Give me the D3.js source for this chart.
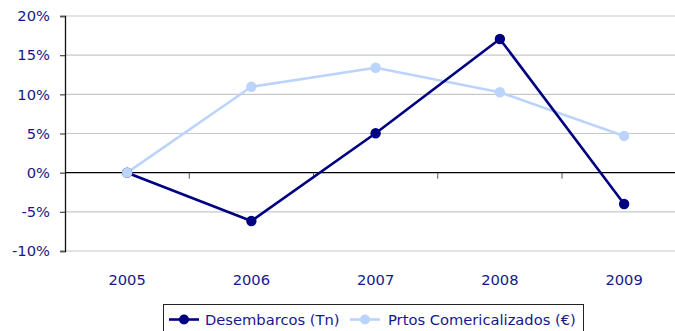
<!DOCTYPE html>
<html>
<head>
<meta charset="utf-8">
<script src="https://cdn.jsdelivr.net/npm/d3@7"></script>
<style>
  html, body { margin: 0; padding: 0; background: #fff; }
  svg { display: block; }
  text { font-family: "DejaVu Sans", Verdana, sans-serif; }
</style>
</head>
<body>
<svg id="chart" width="675" height="331"></svg>
<script>
// Year-on-year change, in percent
const years = ["2005", "2006", "2007", "2008", "2009"];
const desembarcos = [0, -6.17, 5.03, 17.07, -4.0];
const comercializados = [0, 10.97, 13.4, 10.26, 4.69];
const yTicks = [-10, -5, 0, 5, 10, 15, 20];
const seriesNames = ["Desembarcos (Tn)", "Prtos Comericalizados (€)"];

const textColor = "#17178a";
const darkBlue = "#000080";
const lightBlue = "#bcd4fb";

const svg = d3.select("#chart");

const x = d3.scaleBand().domain(years).range([65, 686.25]);
const y = d3.scaleLinear().domain([-10, 20]).range([251, 16]);

// horizontal gridlines
svg.append("g")
  .selectAll("line")
  .data(yTicks.filter(d => d !== 0))
  .join("line")
  .attr("x1", 65).attr("x2", 675)
  .attr("y1", d => y(d)).attr("y2", d => y(d))
  .attr("stroke", "#c8c8c8")
  .attr("stroke-width", 1.2);

// y axis with percent labels
const yAxis = d3.axisLeft(y)
  .tickValues(yTicks)
  .tickSize(5)
  .tickPadding(10)
  .tickFormat(d => d + "%");
const gy = svg.append("g").attr("transform", "translate(65,0)").call(yAxis);
gy.select(".domain").attr("stroke", "#111").attr("stroke-width", 1.3);
gy.selectAll(".tick line").attr("stroke", "#555").attr("stroke-width", 1.3);
gy.selectAll(".tick text")
  .attr("fill", textColor)
  .style("font-size", "14.7px");

// zero baseline with category separators
svg.append("line")
  .attr("x1", 65).attr("x2", 675)
  .attr("y1", y(0)).attr("y2", y(0))
  .attr("stroke", "#000").attr("stroke-width", 1.2);
svg.append("g")
  .selectAll("line")
  .data(years.slice(1))
  .join("line")
  .attr("x1", d => x(d)).attr("x2", d => x(d))
  .attr("y1", y(0)).attr("y2", y(0) + 6)
  .attr("stroke", "#555").attr("stroke-width", 1);

// category labels along the bottom
svg.append("g")
  .selectAll("text")
  .data(years)
  .join("text")
  .attr("x", d => x(d) + x.bandwidth() / 2)
  .attr("y", 284.5)
  .attr("text-anchor", "middle")
  .attr("fill", textColor)
  .style("font-size", "14.7px")
  .text(d => d);

const line = d3.line()
  .x((d, i) => x(years[i]) + x.bandwidth() / 2)
  .y(d => y(d));

function drawLine(values, color) {
  svg.append("path")
    .datum(values)
    .attr("d", line)
    .attr("fill", "none")
    .attr("stroke", color)
    .attr("stroke-width", 2.6)
    .attr("stroke-linejoin", "round");
}
function drawMarkers(values, color) {
  svg.append("g")
    .selectAll("circle")
    .data(values)
    .join("circle")
    .attr("cx", (d, i) => x(years[i]) + x.bandwidth() / 2)
    .attr("cy", d => y(d))
    .attr("r", 5.2)
    .attr("fill", color);
}

// lines first, then markers on top
drawLine(comercializados, lightBlue);
drawLine(desembarcos, darkBlue);
drawMarkers(desembarcos, darkBlue);
drawMarkers(comercializados, lightBlue);

// legend
const legend = svg.append("g");
legend.append("rect")
  .attr("x", 163.5).attr("y", 304.5)
  .attr("width", 420).attr("height", 40)
  .attr("fill", "#fff")
  .attr("stroke", "#222").attr("stroke-width", 1);

const legendItems = [
  { name: seriesNames[0], color: darkBlue, x0: 169, tx: 205 },
  { name: seriesNames[1], color: lightBlue, x0: 350, tx: 388 }
];
legendItems.forEach(it => {
  legend.append("line")
    .attr("x1", it.x0).attr("x2", it.x0 + 30)
    .attr("y1", 319.5).attr("y2", 319.5)
    .attr("stroke", it.color).attr("stroke-width", 2.6);
  legend.append("circle")
    .attr("cx", it.x0 + 15).attr("cy", 319.5).attr("r", 5)
    .attr("fill", it.color);
  legend.append("text")
    .attr("x", it.tx).attr("y", 325)
    .attr("fill", textColor)
    .style("font-size", "14.7px")
    .text(it.name);
});
</script>
</body>
</html>
